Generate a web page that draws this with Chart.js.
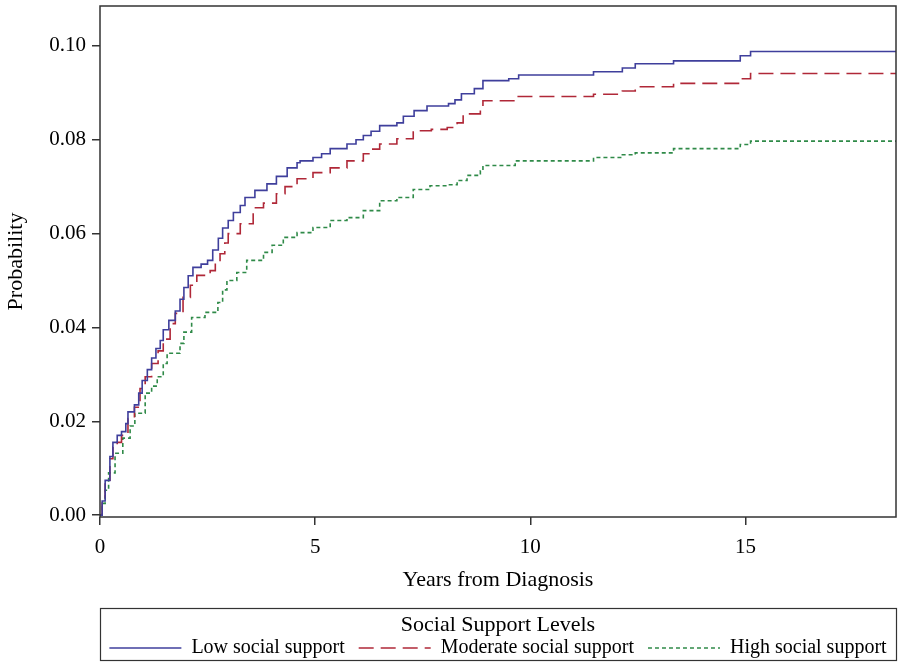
<!DOCTYPE html>
<html>
<head>
<meta charset="utf-8">
<script src="https://cdn.jsdelivr.net/npm/chart.js@4"></script>
<style>
    body { margin: 0; background: #fff; }
    canvas { display: block; }
</style>
</head>
<body>
<canvas id="cifChart" width="900" height="664"></canvas>
<script>
const seriesNames = ['Low social support', 'Moderate social support', 'High social support'];
const legendTitle = 'Social Support Levels';
const xTitle = 'Years from Diagnosis';
const yTitle = 'Probability';
const xTicks = [0, 5, 10, 15];
const yTicks = [0, 0.02, 0.04, 0.06, 0.08, 0.10];
const yTickLabels = ['0.00', '0.02', '0.04', '0.06', '0.08', '0.10'];

const lowTime = [0, 0.05, 0.12, 0.23, 0.3, 0.4, 0.5, 0.6, 0.65, 0.8, 0.9, 0.98, 1.1, 1.2, 1.3, 1.4, 1.47, 1.6, 1.75, 1.86,
    1.95, 2.05, 2.16, 2.35, 2.5, 2.62, 2.75, 2.85, 2.98, 3.1, 3.26, 3.37, 3.6, 3.88, 4.1, 4.35, 4.58, 4.65, 4.95, 5.15,
    5.35, 5.74, 5.95, 6.12, 6.3, 6.5, 6.9, 7.05, 7.3, 7.6, 8.1, 8.25, 8.4, 8.7, 8.9, 9.5, 9.73, 11.47, 12.14, 12.44,
    13.33, 14.88, 15.12, 18.5];
const lowProb = [0, 0.003, 0.0074, 0.0125, 0.0155, 0.017, 0.0178, 0.0195, 0.022, 0.0235, 0.026, 0.0287, 0.031, 0.0335, 0.0355, 0.0372, 0.0395, 0.0415, 0.0435, 0.046,
    0.0485, 0.051, 0.0528, 0.0535, 0.0543, 0.0565, 0.059, 0.0612, 0.0628, 0.0645, 0.066, 0.0677, 0.0692, 0.0706, 0.0722, 0.074, 0.0751, 0.0755, 0.0762, 0.077,
    0.0781, 0.0791, 0.08, 0.0809, 0.0818, 0.083, 0.0836, 0.085, 0.0862, 0.0872, 0.0877, 0.0885, 0.0898, 0.0909, 0.0926, 0.093, 0.0938, 0.0945, 0.0953, 0.0962,
    0.0968, 0.0979, 0.0988, 0.0988];

const modTime = [0, 0.05, 0.12, 0.23, 0.3, 0.4, 0.5, 0.65, 0.8, 0.93, 1.05, 1.2, 1.35, 1.47, 1.63, 1.75, 1.93, 2.1, 2.25, 2.56,
    2.68, 2.79, 2.9, 2.98, 3.26, 3.56, 3.8, 4.1, 4.3, 4.58, 4.95, 5.35, 5.74, 6.12, 6.3, 6.5, 6.9, 7.28, 7.7, 8.07,
    8.3, 8.44, 8.84, 8.9, 9.7, 11.47, 12.14, 12.44, 13.33, 14.88, 15.12, 18.5];
const modProb = [0, 0.003, 0.007, 0.012, 0.0145, 0.0155, 0.017, 0.0206, 0.023, 0.027, 0.0295, 0.0323, 0.035, 0.0375, 0.0408, 0.043, 0.0464, 0.049, 0.0511, 0.0521,
    0.054, 0.0557, 0.058, 0.06, 0.0621, 0.0655, 0.0665, 0.0685, 0.07, 0.0717, 0.073, 0.074, 0.0755, 0.077, 0.078, 0.0791, 0.0802, 0.0819, 0.0822, 0.0826,
    0.0836, 0.0855, 0.0868, 0.0883, 0.0892, 0.0897, 0.0904, 0.0913, 0.092, 0.093, 0.0941, 0.0941];

const highTime = [0, 0.05, 0.12, 0.2, 0.35, 0.53, 0.7, 0.81, 1.05, 1.2, 1.33, 1.47, 1.56, 1.86, 1.95, 2.13, 2.44, 2.74, 2.85, 2.95,
    3.18, 3.41, 3.8, 4.0, 4.26, 4.58, 4.95, 5.35, 5.74, 6.12, 6.5, 6.9, 7.28, 7.67, 8.07, 8.3, 8.53, 8.84, 8.9, 9.65,
    11.47, 12.14, 12.44, 13.33, 14.88, 15.12, 18.5];
const highProb = [0, 0.0025, 0.0053, 0.009, 0.0132, 0.0164, 0.019, 0.0217, 0.026, 0.0275, 0.0295, 0.0323, 0.0345, 0.0366, 0.039, 0.0421, 0.0432, 0.0453, 0.048, 0.05,
    0.0517, 0.0543, 0.056, 0.0575, 0.0592, 0.0602, 0.0613, 0.0628, 0.0634, 0.0649, 0.067, 0.0677, 0.0694, 0.0702, 0.0704, 0.0713, 0.0724, 0.0734, 0.0745, 0.0755,
    0.0762, 0.0768, 0.0772, 0.0781, 0.079, 0.0797, 0.0797];

const lineColors = ['#3f3f9c', '#b02838', '#2f8a48'];
const lineDashes = [[], [15, 7], [4, 3]];
const serif = 'Liberation Serif';
const frameColor = '#333';

function toPoints(times, probs) {
    return times.map((t, i) => ({ x: t, y: probs[i] }));
}

function makeDataset(i, times, probs) {
    return {
        label: seriesNames[i],
        data: toPoints(times, probs),
        borderColor: lineColors[i],
        borderDash: lineDashes[i],
        borderWidth: 1.6,
        pointRadius: 0,
        fill: false,
        stepped: true,
        tension: 0
    };
}

// legend placed under the plot, a bit wider than the box so items don't wrap
const framePlugin = {
    id: 'frame',
    afterLayout(chart) {
        const lg = chart.legend;
        const area = chart.chartArea;
        lg.left = area.left - 14;
        lg.right = area.right + 14;
        lg.width = lg.right - lg.left;
        lg.top = 608;
        lg.bottom = 660;
        lg.height = 52;
    },
    afterDraw(chart) {
        const c = chart.ctx;
        const area = chart.chartArea;
        const lg = chart.legend;
        c.save();
        c.strokeStyle = frameColor;
        c.lineWidth = 1.5;
        c.strokeRect(area.left, area.top, area.right - area.left, area.bottom - area.top);
        c.lineWidth = 1.2;
        c.strokeRect(area.left + 0.5, lg.top + 0.5, area.right - area.left, lg.height);
        c.restore();
    }
};

const ctx = document.getElementById('cifChart').getContext('2d');
const chart = new Chart(ctx, {
    type: 'line',
    data: {
        datasets: [
            makeDataset(0, lowTime, lowProb),
            makeDataset(1, modTime, modProb),
            makeDataset(2, highTime, highProb)
        ]
    },
    options: {
        responsive: false,
        animation: false,
        devicePixelRatio: 1,
        layout: { padding: { left: 0, right: 4, top: 6, bottom: 0 } },
        plugins: {
            tooltip: { enabled: false },
            legend: {
                position: 'bottom',
                title: {
                    display: true,
                    text: legendTitle,
                    color: '#000',
                    font: { family: serif, size: 22 },
                    padding: { top: 6, bottom: -16.4 }
                },
                labels: {
                    usePointStyle: true,
                    pointStyleWidth: 72,
                    padding: 14,
                    color: '#000',
                    font: { family: serif, size: 20 },
                    generateLabels: () => seriesNames.map((name, i) => ({
                        text: name,
                        fillStyle: 'rgba(0,0,0,0)',
                        strokeStyle: lineColors[i],
                        lineDash: lineDashes[i],
                        lineWidth: 1.6,
                        pointStyle: 'line',
                        fontColor: '#000',
                        hidden: false,
                        datasetIndex: i
                    }))
                }
            }
        },
        scales: {
            x: {
                type: 'linear',
                min: 0,
                max: 18.5,
                border: { display: false },
                grid: { drawOnChartArea: false, drawTicks: true, tickLength: 8, color: frameColor, lineWidth: 1.5 },
                ticks: { color: '#000', font: { family: serif, size: 21 }, padding: 9.5, maxRotation: 0 },
                afterBuildTicks: (scale) => { scale.ticks = xTicks.map(v => ({ value: v })); },
                afterFit: (scale) => { scale.height = 87; scale.paddingLeft = 0; scale.paddingRight = 0; },
                title: { display: true, text: xTitle, color: '#000', font: { family: serif, size: 22 }, padding: { top: 0, bottom: 10.8 } }
            },
            y: {
                min: -0.0004,
                max: 0.1085,
                border: { display: false },
                grid: { drawOnChartArea: false, drawTicks: true, tickLength: 8, color: frameColor, lineWidth: 1.5 },
                ticks: {
                    color: '#000',
                    font: { family: serif, size: 21 },
                    padding: 6,
                    callback: (value) => {
                        const i = yTicks.findIndex(v => Math.abs(v - value) < 1e-9);
                        return i >= 0 ? yTickLabels[i] : '';
                    }
                },
                afterBuildTicks: (scale) => { scale.ticks = yTicks.map(v => ({ value: v })); },
                afterFit: (scale) => { scale.width = 100; scale.paddingTop = 0; scale.paddingBottom = 0; },
                title: { display: true, text: yTitle, color: '#000', font: { family: serif, size: 22 }, padding: { top: 3, bottom: 0 } }
            }
        }
    },
    plugins: [framePlugin]
});
</script>
</body>
</html>
